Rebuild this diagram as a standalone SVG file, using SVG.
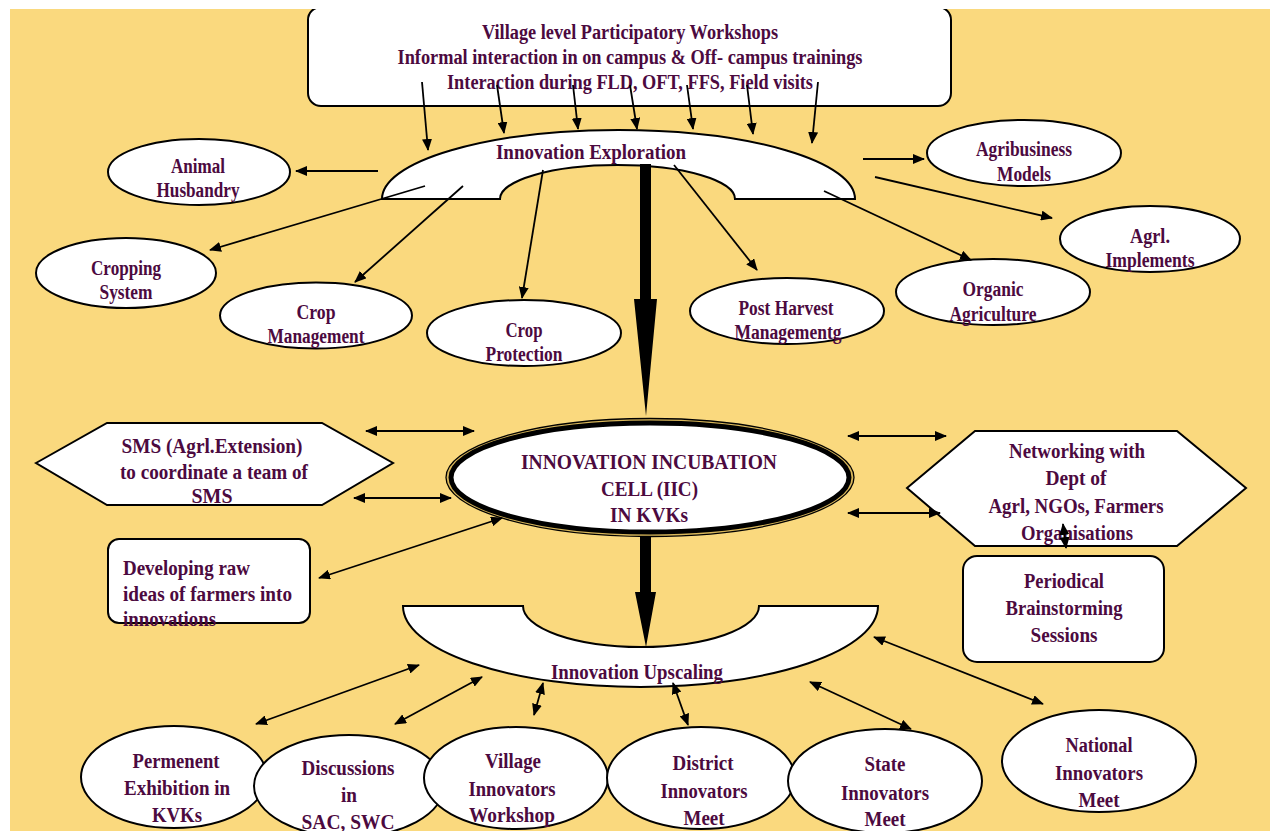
<svg xmlns="http://www.w3.org/2000/svg" width="1270" height="831" viewBox="0 0 1270 831">
<style>
.t{font-family:"Liberation Serif","Times New Roman",serif;font-weight:bold;font-size:20px;fill:#4C0A3F;text-anchor:middle}
.l{text-anchor:start}
.n{fill:#fff;stroke:#000;stroke-width:2}
.c{stroke:#000;stroke-width:1.8;fill:none;marker-end:url(#ah)}
.d{stroke:#000;stroke-width:1.8;fill:none;marker-end:url(#ah);marker-start:url(#ah)}
</style>
<defs>
<marker id="ah" viewBox="0 0 12 10" refX="11" refY="5" markerWidth="12" markerHeight="10" markerUnits="userSpaceOnUse" orient="auto-start-reverse"><path d="M0,0 L12,5 L0,10 z" fill="#000"/></marker>
</defs>
<rect x="0" y="0" width="1270" height="831" fill="#fff"/>
<rect x="10" y="9" width="1260" height="822" fill="#FAD97E"/>

<g id="sources">
<rect class="n" x="308" y="7" width="643" height="99" rx="13"/>
<rect x="0" y="0" width="1270" height="9" fill="#fff"/>
<text class="t" x="630" y="39" textLength="296" lengthAdjust="spacingAndGlyphs">Village level Participatory Workshops</text>
<text class="t" x="630" y="64" textLength="465" lengthAdjust="spacingAndGlyphs">Informal interaction in on campus &amp; Off- campus trainings</text>
<text class="t" x="630" y="89" textLength="366" lengthAdjust="spacingAndGlyphs">Interaction during FLD, OFT, FFS, Field visits</text>
</g>

<g id="exploration">
<path class="n" d="M382,199 A236.5,69 0 0 1 855,199 L735,199 A117.5,34 0 0 0 500,199 Z"/>
<text class="t" x="591" y="159" textLength="190" lengthAdjust="spacingAndGlyphs">Innovation Exploration</text>
</g>

<g id="animal"><ellipse class="n" cx="199" cy="172" rx="91" ry="33"/>
<text class="t" x="198" y="173" textLength="54" lengthAdjust="spacingAndGlyphs">Animal</text>
<text class="t" x="198" y="197" textLength="83" lengthAdjust="spacingAndGlyphs">Husbandry</text></g>

<g id="agribusiness"><ellipse class="n" cx="1024" cy="153" rx="97" ry="33"/>
<text class="t" x="1024" y="156" textLength="96" lengthAdjust="spacingAndGlyphs">Agribusiness</text>
<text class="t" x="1024" y="181" textLength="54" lengthAdjust="spacingAndGlyphs">Models</text></g>

<g id="cropping"><ellipse class="n" cx="126" cy="273" rx="90" ry="35"/>
<text class="t" x="126" y="275" textLength="70" lengthAdjust="spacingAndGlyphs">Cropping</text>
<text class="t" x="126" y="299" textLength="53" lengthAdjust="spacingAndGlyphs">System</text></g>

<g id="cropmgmt"><ellipse class="n" cx="316" cy="315.5" rx="96" ry="33"/>
<text class="t" x="316" y="319" textLength="39" lengthAdjust="spacingAndGlyphs">Crop</text>
<text class="t" x="316" y="343" textLength="97" lengthAdjust="spacingAndGlyphs">Management</text></g>

<g id="cropprot"><ellipse class="n" cx="524" cy="333" rx="97" ry="33"/>
<text class="t" x="524" y="337" textLength="37" lengthAdjust="spacingAndGlyphs">Crop</text>
<text class="t" x="524" y="361" textLength="77" lengthAdjust="spacingAndGlyphs">Protection</text></g>

<g id="postharvest"><ellipse class="n" cx="787" cy="311" rx="97" ry="33"/>
<text class="t" x="786" y="315" textLength="95" lengthAdjust="spacingAndGlyphs">Post Harvest</text>
<text class="t" x="788" y="339" textLength="107" lengthAdjust="spacingAndGlyphs">Managementg</text></g>

<g id="organic"><ellipse class="n" cx="993" cy="292" rx="97" ry="33"/>
<text class="t" x="993" y="296" textLength="61" lengthAdjust="spacingAndGlyphs">Organic</text>
<text class="t" x="993" y="321" textLength="87" lengthAdjust="spacingAndGlyphs">Agriculture</text></g>

<g id="implements"><ellipse class="n" cx="1150" cy="239" rx="90" ry="33"/>
<text class="t" x="1150" y="243" textLength="40" lengthAdjust="spacingAndGlyphs">Agrl.</text>
<text class="t" x="1150" y="267" textLength="89" lengthAdjust="spacingAndGlyphs">Implements</text></g>

<g id="sms"><polygon class="n" points="36,463 107,423 322,423 393,463 322,505 107,505"/>
<text class="t" x="212" y="453" textLength="181" lengthAdjust="spacingAndGlyphs">SMS (Agrl.Extension)</text>
<text class="t" x="214" y="479" textLength="188" lengthAdjust="spacingAndGlyphs">to coordinate a team of</text>
<text class="t" x="212" y="503" textLength="41" lengthAdjust="spacingAndGlyphs">SMS</text></g>

<g id="iic">
<ellipse cx="650" cy="477.5" rx="204" ry="59" fill="#D9B75A" stroke="#000" stroke-width="1.3"/>
<ellipse cx="650" cy="477.5" rx="199" ry="54.5" fill="#fff" stroke="#000" stroke-width="5"/>
<text class="t" x="649" y="469" textLength="256" lengthAdjust="spacingAndGlyphs">INNOVATION INCUBATION</text>
<text class="t" x="649.5" y="496" textLength="97" lengthAdjust="spacingAndGlyphs">CELL (IIC)</text>
<text class="t" x="649" y="522" textLength="78" lengthAdjust="spacingAndGlyphs">IN KVKs</text>
</g>

<g id="networking"><polygon class="n" points="907,488 975,431 1177,431 1246,488 1177,546 975,546"/>
<text class="t" x="1077" y="458" textLength="136" lengthAdjust="spacingAndGlyphs">Networking with</text>
<text class="t" x="1076" y="485" textLength="61" lengthAdjust="spacingAndGlyphs">Dept of</text>
<text class="t" x="1076" y="513" textLength="175" lengthAdjust="spacingAndGlyphs">Agrl, NGOs, Farmers</text>
<text class="t" x="1077" y="540" textLength="112" lengthAdjust="spacingAndGlyphs">Organisations</text></g>

<g id="developing"><rect class="n" x="108" y="539" width="202" height="84" rx="11"/>
<text class="t l" x="123" y="575" textLength="127" lengthAdjust="spacingAndGlyphs">Developing raw</text>
<text class="t l" x="123" y="601" textLength="169" lengthAdjust="spacingAndGlyphs">ideas of farmers into</text>
<text class="t l" x="123" y="626" textLength="93" lengthAdjust="spacingAndGlyphs">innovations</text></g>

<g id="periodical"><rect class="n" x="963" y="556" width="201" height="106" rx="14"/>
<text class="t" x="1064" y="588" textLength="80" lengthAdjust="spacingAndGlyphs">Periodical</text>
<text class="t" x="1064" y="615" textLength="117" lengthAdjust="spacingAndGlyphs">Brainstorming</text>
<text class="t" x="1064" y="642" textLength="67" lengthAdjust="spacingAndGlyphs">Sessions</text></g>

<g id="upscaling">
<path class="n" d="M403,606 L523,606 A118,41 0 0 0 759,606 L878,606 A237.5,81 0 0 1 403,606 Z"/>
<text class="t" x="637" y="679" textLength="172" lengthAdjust="spacingAndGlyphs">Innovation Upscaling</text>
</g>

<g id="permanent"><ellipse class="n" cx="174" cy="777" rx="93" ry="51"/>
<text class="t" x="176" y="768" textLength="87" lengthAdjust="spacingAndGlyphs">Permenent</text>
<text class="t" x="177" y="795" textLength="106" lengthAdjust="spacingAndGlyphs">Exhibition in</text>
<text class="t" x="177" y="822" textLength="50" lengthAdjust="spacingAndGlyphs">KVKs</text></g>

<g id="discussions"><ellipse class="n" cx="349" cy="786" rx="95" ry="51"/>
<text class="t" x="348" y="775" textLength="93" lengthAdjust="spacingAndGlyphs">Discussions</text>
<text class="t" x="349" y="802" textLength="16" lengthAdjust="spacingAndGlyphs">in</text>
<text class="t" x="348" y="829" textLength="93" lengthAdjust="spacingAndGlyphs">SAC, SWC</text></g>

<g id="village"><ellipse class="n" cx="516" cy="778" rx="92" ry="51"/>
<text class="t" x="513" y="768" textLength="56" lengthAdjust="spacingAndGlyphs">Village</text>
<text class="t" x="512" y="796" textLength="87" lengthAdjust="spacingAndGlyphs">Innovators</text>
<text class="t" x="512" y="822" textLength="86" lengthAdjust="spacingAndGlyphs">Workshop</text></g>

<g id="district"><ellipse class="n" cx="701" cy="778" rx="94" ry="51"/>
<text class="t" x="703" y="770" textLength="61" lengthAdjust="spacingAndGlyphs">District</text>
<text class="t" x="704" y="798" textLength="87" lengthAdjust="spacingAndGlyphs">Innovators</text>
<text class="t" x="704" y="825" textLength="41" lengthAdjust="spacingAndGlyphs">Meet</text></g>

<g id="state"><ellipse class="n" cx="885" cy="781" rx="97" ry="52"/>
<text class="t" x="885" y="771" textLength="41" lengthAdjust="spacingAndGlyphs">State</text>
<text class="t" x="885" y="800" textLength="88" lengthAdjust="spacingAndGlyphs">Innovators</text>
<text class="t" x="885" y="826" textLength="41" lengthAdjust="spacingAndGlyphs">Meet</text></g>

<g id="national"><ellipse class="n" cx="1099" cy="761" rx="97" ry="51"/>
<text class="t" x="1099" y="752" textLength="67" lengthAdjust="spacingAndGlyphs">National</text>
<text class="t" x="1099" y="780" textLength="88" lengthAdjust="spacingAndGlyphs">Innovators</text>
<text class="t" x="1099" y="807" textLength="41" lengthAdjust="spacingAndGlyphs">Meet</text></g>

<g id="connectors">
<line class="c" x1="422" y1="82" x2="428" y2="150"/>
<line class="c" x1="497" y1="85" x2="504" y2="133"/>
<line class="c" x1="573" y1="85" x2="578" y2="129"/>
<line class="c" x1="630" y1="85" x2="637" y2="129"/>
<line class="c" x1="687" y1="85" x2="693" y2="129"/>
<line class="c" x1="747" y1="85" x2="753" y2="134"/>
<line class="c" x1="818" y1="82" x2="812" y2="143"/>

<line class="c" x1="378" y1="171" x2="296" y2="171"/>
<line class="c" x1="425" y1="186" x2="210" y2="250"/>
<line class="c" x1="463" y1="186" x2="355" y2="282"/>
<line class="c" x1="543" y1="170" x2="522" y2="298"/>
<line class="c" x1="674" y1="165" x2="757" y2="270"/>
<line class="c" x1="824" y1="191" x2="971" y2="260"/>
<line class="c" x1="875" y1="177" x2="1052" y2="218"/>
<line class="c" x1="863" y1="159" x2="924" y2="159"/>

<polygon points="640,164 651,164 651,299 657,299 646,416 634,299 640,299" fill="#000"/>
<polygon points="640,537 651,537 651,592 656,592 646,647 635,592 640,592" fill="#000"/>

<line class="d" x1="366" y1="431" x2="474" y2="431"/>
<line class="d" x1="354" y1="498" x2="451" y2="498"/>
<line class="d" x1="319" y1="578" x2="502" y2="518"/>
<line class="d" x1="848" y1="436" x2="946" y2="436"/>
<line class="d" x1="848" y1="513" x2="940" y2="513"/>
<line class="d" x1="1063" y1="524" x2="1066" y2="548"/>

<line class="d" x1="256" y1="724" x2="419" y2="665"/>
<line class="d" x1="395" y1="724" x2="482" y2="677"/>
<line class="d" x1="534" y1="715" x2="543" y2="683"/>
<line class="d" x1="673" y1="683" x2="688" y2="725"/>
<line class="d" x1="810" y1="682" x2="911" y2="729"/>
<line class="d" x1="874" y1="637" x2="1043" y2="704"/>
</g>
</svg>
